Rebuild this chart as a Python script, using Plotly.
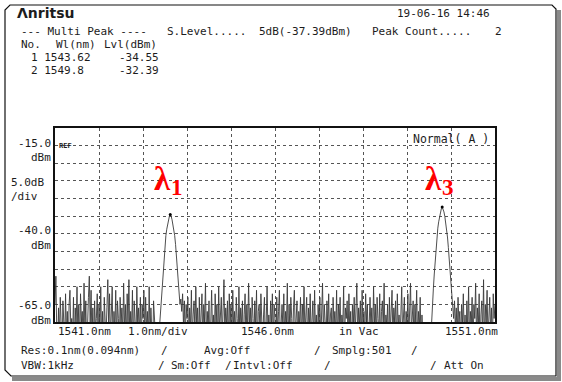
import numpy as np
import plotly.graph_objects as go

# ---- canvas / plot box (pixels) ----
W, H = 562, 382
L, R, T, B = 55, 67, 128, 60
PW, PH = W - L - R, H - T - B

# ---- sweep settings ----
start_nm, stop_nm, samples = 1541.0, 1551.0, 501
ref_dbm, scale_db, n_div = -15.0, 5.0, 11
top_dbm = ref_dbm + scale_db
bottom_dbm = top_dbm - n_div * scale_db

# ---- peak table ----
peak_no = [1, 2]
peak_wl = [1543.62, 1549.8]
peak_lvl = [-34.55, -32.39]
slice_level = "5dB(-37.39dBm)"
peak_count = 2

# ---- measured trace (dBm), 501 points ----
noise_1 = [
    -60, -52, -68, -72, -61, -70, -58, -66, -74, -59, -63, -71, -57, -69, -62, -75, -60, -56, -67, -64,
    -70, -58, -73, -61, -66, -55, -69, -60, -72, -57, -65, -62, -71, -54, -68, -59, -74, -63, -58, -52,
    -66, -56, -70, -61, -73, -59, -67, -64, -57, -72, -60, -68, -55, -71, -62, -74, -58, -65, -69, -61,
    -53, -66, -57, -70, -60, -55, -73, -62, -68, -56, -71, -59, -64, -75, -58, -66, -61, -69, -54, -67,
    -60, -72, -57, -65, -53, -70, -62, -68, -56, -74, -59, -63, -71, -55, -66, -61, -69, -58, -73, -60,
    -64, -56, -70, -58, -67, -62, -72, -55, -69, -61, -66, -74, -59, -63, -76, -77, -78, -77, -76,
]
peak_1 = [
    -65.5, -61.5, -57.5, -53.5, -49.5, -46.0, -43.0, -40.5, -38.7, -37.2, -36.0, -35.0,
    -34.55,
    -35.0, -36.0, -37.2, -38.7, -40.5, -43.0, -46.0, -49.5, -53.5, -57.5, -60.0, -58.5,
]
noise_2 = [
    -62, -57, -66, -59, -71, -60, -64, -58, -73, -61, -67, -56, -70, -63, -59, -68,
    -55, -66, -61, -74, -58, -69, -63, -57, -72, -60, -65, -54, -70, -62, -67, -59, -75, -61, -56, -68,
    -63, -71, -57, -66, -60, -73, -55, -68, -62, -58, -70, -64, -53, -69, -61, -66, -59, -74, -57, -65,
    -60, -72, -56, -67, -62, -70, -58, -64, -73, -55, -69, -61, -66, -59, -75, -63, -57, -71, -60, -68,
    -54, -66, -61, -70, -58, -64, -72, -59, -67, -56, -73, -62, -60, -69, -57, -65, -71, -63, -58, -74,
    -61, -55, -68, -63, -70, -59, -66, -57, -72, -60, -64, -75, -58, -69, -62, -56, -71, -65, -60, -67,
    -57, -70, -62, -66, -54, -72, -60, -68, -58, -64, -73, -61, -56, -69, -63, -59, -74, -62, -66, -58,
    -71, -60, -65, -55, -69, -62, -58, -73, -61, -67, -57, -70, -64, -59, -72, -56, -68, -63, -75, -60,
    -66, -58, -71, -62, -54, -69, -60, -65, -73, -59, -67, -57, -70, -63, -61, -74, -58, -66, -62, -69,
    -56, -72, -60, -65, -58, -70, -63, -67, -55, -73, -61, -64, -59, -71, -57, -68, -62, -75, -60, -66,
    -58, -69, -63, -54, -71, -61, -66, -59, -73, -56, -68, -62, -70, -57, -65, -60, -74, -63, -58, -67,
    -61, -70, -55, -66, -60, -72, -58, -64, -69, -57, -73, -62, -59, -67, -54, -71, -63, -66, -60, -75,
    -58, -68, -62, -56, -70, -61, -65, -59, -73, -57, -67, -63, -71, -60, -55, -69, -64, -58, -72, -62,
    -66, -57, -70, -61, -54, -68, -63, -59, -73, -60, -65, -56, -71, -62, -67, -58, -74, -63, -69, -66,
    -76, -77, -78, -77, -76, -78, -77, -70,
]
peak_2 = [
    -63.4, -59.4, -55.4, -51.4, -47.4, -43.9, -40.9, -38.4, -36.6, -35.1, -33.8, -32.9,
    -32.39,
    -32.9, -33.8, -35.1, -36.6, -38.4, -40.9, -43.9, -47.4, -51.4, -55.4, -58.0, -61.0,
]
noise_3 = [
    -64, -59, -67, -61, -70, -58, -65, -62, -72, -60, -66, -57, -69, -63, -74, -59, -68, -55, -71, -62,
    -66, -58, -73, -60, -64, -54, -70, -61, -67, -57, -75, -63, -59, -69, -53, -72, -60, -65, -56, -70,
    -62, -58, -68, -61, -73, -57, -64, -60,
]
level_dbm = noise_1 + peak_1 + noise_2 + peak_2 + noise_3
wavelength_nm = np.linspace(start_nm, stop_nm, samples)

MONO = "DejaVu Sans Mono"
SERIF = "Liberation Serif"
INK = "#1c1c1c"


def px(x):
    return (x - L) / PW


def py(y):
    return (H - B - y) / PH


fig = go.Figure()

fig.add_trace(go.Scatter(
    x=wavelength_nm, y=level_dbm, mode="lines",
    line=dict(color="#3a3a3a", width=0.9), hoverinfo="skip", showlegend=False,
))
fig.add_trace(go.Scatter(
    x=peak_wl, y=peak_lvl, mode="markers",
    marker=dict(color="#000000", size=3), hoverinfo="skip", showlegend=False,
))

fig.update_layout(
    width=W, height=H,
    margin=dict(l=L, r=R, t=T, b=B, pad=0),
    paper_bgcolor="white", plot_bgcolor="white",
    showlegend=False,
)
grid = dict(showgrid=True, gridcolor="#555555", gridwidth=1, griddash="dot",
            showline=True, linecolor="#111111", linewidth=1.5, mirror=True,
            showticklabels=False, ticks="", zeroline=False, fixedrange=True)
fig.update_xaxes(range=[start_nm, stop_nm], dtick=1.0, tick0=start_nm, **grid)
fig.update_yaxes(range=[bottom_dbm, top_dbm], dtick=scale_db, tick0=bottom_dbm, **grid)


def txt(x, y, s, size=11, anchor="left", family=MONO, color=INK):
    fig.add_annotation(
        x=px(x), y=py(y), xref="paper", yref="paper", text=s, showarrow=False,
        xanchor=anchor, yanchor="middle", borderpad=0,
        font=dict(family=family, size=size, color=color),
    )


# ---- header ----
txt(16, 13, "<b>Λnritsu</b>", size=14, family="DejaVu Sans")
txt(396, 13, "19-06-16 14:46")
txt(20, 31, "--- Multi Peak ----")
txt(166, 31, "S.Level.....")
txt(258, 31, slice_level)
txt(371, 31, "Peak Count.....")
txt(494, 31, str(peak_count))
txt(20, 44, "No.")
txt(55, 44, "Wl(nm)")
txt(103, 44, "Lvl(dBm)")
for k, (n, wl, lv) in enumerate(zip(peak_no, peak_wl, peak_lvl)):
    yy = 58 + 13 * k
    txt(30, yy, f"{n} {wl:g}")
    txt(118, yy, f"{lv:.2f}")

# ---- level scale labels ----
txt(52, 143, f"{ref_dbm:.1f}", anchor="right")
txt(52, 157, "dBm", anchor="right")
txt(10, 182, f"{scale_db:.1f}dB")
txt(10, 196, "/div")
txt(52, 230, f"{ref_dbm - 5 * scale_db:.1f}", anchor="right")
txt(52, 245, "dBm", anchor="right")
txt(52, 305, f"{bottom_dbm:.1f}", anchor="right")
txt(52, 320, "dBm", anchor="right")
txt(58, 146, "<b>REF</b>", size=7)
txt(412, 139, "Normal( A )", size=11.5)

# ---- wavelength scale labels ----
txt(57, 331, f"{start_nm:.1f}nm")
txt(127, 331, "1.0nm/div")
txt(240, 331, f"{(start_nm + stop_nm) / 2:.1f}nm")
txt(338, 331, "in Vac")
txt(444, 331, f"{stop_nm:.1f}nm")

# ---- settings footer ----
txt(20, 350, "Res:0.1nm(0.094nm)")
txt(160, 350, "/")
txt(203, 350, "Avg:Off")
txt(313, 350, "/")
txt(331, 350, "Smplg:501")
txt(410, 350, "/")
txt(20, 365, "VBW:1kHz")
txt(157, 365, "/")
txt(170, 365, "Sm:Off")
txt(224, 365, "/")
txt(232, 365, "Intvl:Off")
txt(323, 365, "/")
txt(429, 365, "/")
txt(443, 365, "Att On")

# ---- channel labels ----
RED = "#ff0000"
txt(162, 179, "<b>λ</b>", size=33, anchor="center", family=SERIF, color=RED)
txt(177, 187, "<b>1</b>", size=23, anchor="center", family=SERIF, color=RED)
txt(433, 179, "<b>λ</b>", size=33, anchor="center", family=SERIF, color=RED)
txt(448, 187, "<b>3</b>", size=23, anchor="center", family=SERIF, color=RED)


# ---- instrument screen frame with drop shadow ----
def path(points):
    return "M " + " L ".join(f"{px(a)},{py(b)}" for a, b in points) + " Z"


shadow = [(12, 377), (561, 377), (561, 381), (12, 381)]
fig.add_shape(type="path", path=path(shadow), xref="paper", yref="paper",
              fillcolor="#8a8a8a", line=dict(width=0), layer="below")
shadow_r = [(557, 10), (561, 10), (561, 381), (557, 381)]
fig.add_shape(type="path", path=path(shadow_r), xref="paper", yref="paper",
              fillcolor="#8a8a8a", line=dict(width=0), layer="below")
frame = [(10, 5), (552, 5), (556, 9), (556, 376), (11, 376), (5, 370), (5, 10)]
fig.add_shape(type="path", path=path(frame), xref="paper", yref="paper",
              fillcolor="rgba(0,0,0,0)", line=dict(color="#111111", width=1.2))

fig.write_html("out.html")
